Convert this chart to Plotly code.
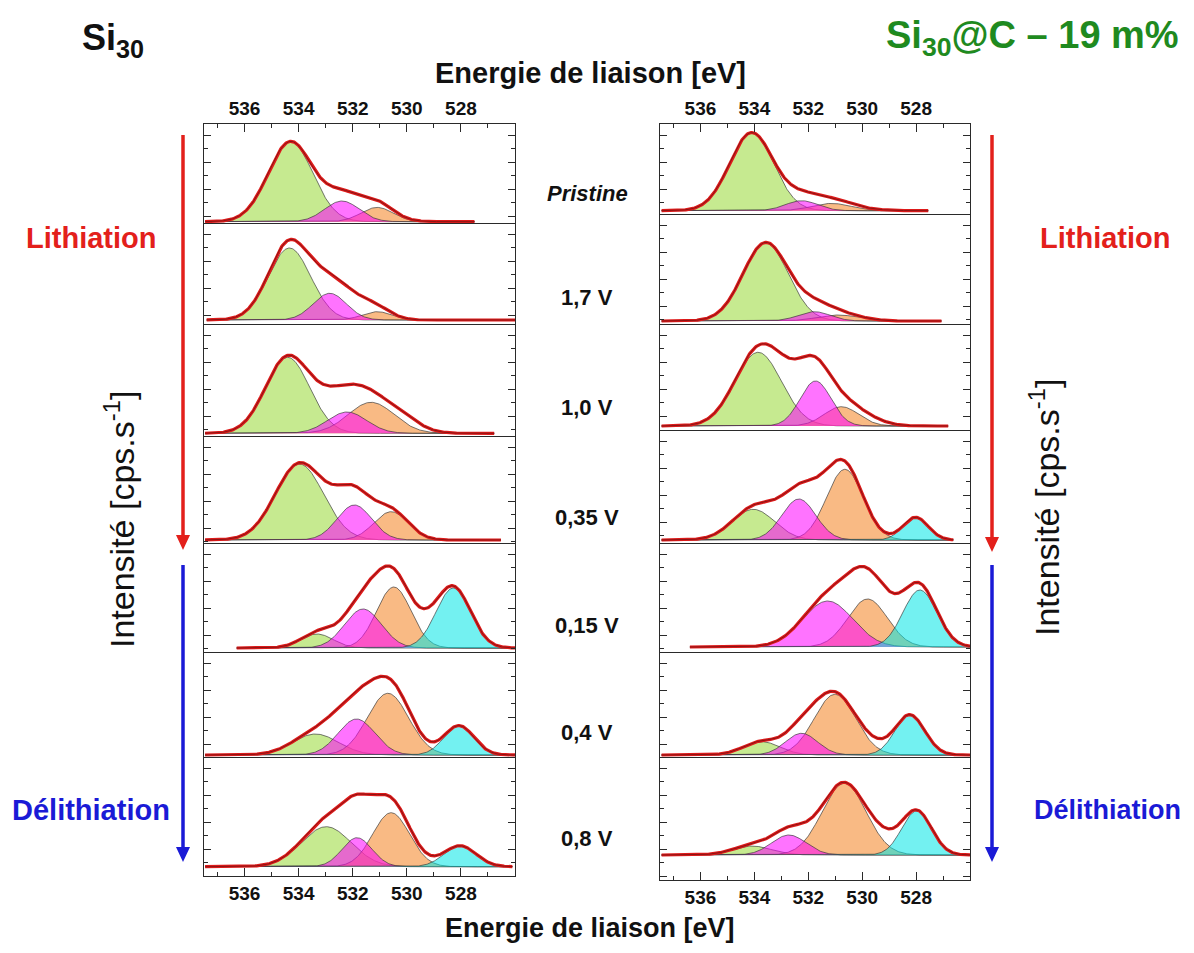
import numpy as np
import plotly.graph_objects as go

W, H = 1194, 953          # browser window
OFF = 8                   # default page margin around the plot div
FW, FH = W - 2 * OFF, H - 2 * OFF
FONT = "Arial, 'Liberation Sans', sans-serif"

# ---------------- data ----------------
ENERGY_TICKS = [536, 534, 532, 530, 528]
ENERGY_MINOR = [537, 535, 533, 531, 529, 527]
ENERGY_RANGE = [537.5, 526.0]
CONDITIONS = ["<i>Pristine</i>", "1,7 V", "1,0 V", "0,35 V", "0,15 V", "0,4 V", "0,8 V"]

# Si30 panel: fitted components (centre eV, height, FWHM eV)
SI30_GREEN_C = [534.30, 534.34, 534.41, 533.97, 533.32, 533.38, 532.98]
SI30_GREEN_H = [80.0, 72.0, 76.0, 76.0, 14.0, 21.0, 40.0]
SI30_GREEN_W = [1.95, 1.85, 1.92, 2.10, 1.40, 2.00, 2.16]
SI30_MAG_C = [532.40, 532.85, 532.21, 531.94, 531.62, 531.86, 531.84]
SI30_MAG_H = [20.7, 26.7, 21.3, 35.0, 39.0, 36.0, 29.0]
SI30_MAG_W = [1.50, 1.45, 1.70, 1.50, 1.60, 1.60, 1.30]
SI30_ORA_C = [531.10, 531.10, 531.32, 530.58, 530.48, 530.70, 530.58]
SI30_ORA_H = [14.3, 8.3, 31.0, 28.3, 61.0, 61.7, 54.0]
SI30_ORA_W = [1.40, 1.30, 2.00, 1.50, 1.50, 1.80, 1.60]
SI30_CYA_C = [528.0, 528.0, 528.0, 528.0, 528.28, 528.07, 528.03]
SI30_CYA_H = [0.0, 0.0, 0.0, 0.0, 60.0, 29.3, 20.7]
SI30_CYA_W = [1.3, 1.3, 1.3, 1.3, 1.50, 1.30, 1.40]
# part of the measured curve not covered by the components
SI30_RESID = [[(531.7, 6, 2.2)],
              [(534.2, 7, 1.5), (532.0, 16, 1.7)],
              [(533.0, 15, 1.6), (530.1, 9, 1.6)],
              [(532.3, 12, 1.8)],
              [(531.0, 9, 3.0), (529.3, 8, 1.2)],
              [(532.6, 9, 1.4), (530.3, 9, 1.4)],
              [(531.5, 16, 2.8)]]
SI30_SPAN = [(537.46, 527.5), (537.4, 526.0), (537.46, 526.77), (537.46, 526.52),
             (536.29, 526.0), (537.46, 526.0), (537.46, 526.1)]

# Si30@C panel
SIC_GREEN_C = [534.10, 533.58, 533.86, 534.04, 533.50, 533.73, 534.10]
SIC_GREEN_H = [78.0, 78.0, 73.7, 30.7, 0.0, 13.3, 9.0]
SIC_GREEN_W = [1.92, 1.98, 2.04, 1.85, 1.50, 1.60, 1.70]
SIC_MAG_C = [532.25, 531.78, 531.73, 532.35, 531.28, 532.25, 532.72]
SIC_MAG_H = [10.0, 9.3, 45.0, 41.0, 46.0, 21.7, 20.0]
SIC_MAG_W = [1.40, 1.40, 1.35, 1.48, 2.20, 1.40, 1.50]
SIC_ORA_C = [531.14, 530.89, 530.77, 530.64, 529.80, 531.01, 530.67]
SIC_ORA_H = [7.3, 6.0, 19.3, 70.7, 48.0, 60.7, 71.7]
SIC_ORA_W = [1.70, 1.80, 1.50, 1.60, 1.73, 1.80, 1.92]
SIC_CYA_C = [528.0, 528.0, 528.0, 528.02, 527.86, 528.23, 527.98]
SIC_CYA_H = [0.0, 0.0, 0.0, 22.7, 57.0, 40.0, 44.0]
SIC_CYA_W = [1.1, 1.1, 1.1, 1.10, 1.48, 1.30, 1.30]
SIC_RESID = [[(531.2, 4, 2.5)],
             [(531.6, 3, 2.5)],
             [(532.6, 27, 1.8), (529.9, 7, 1.6)],
             [(531.5, 18, 1.5), (533.3, 7, 1.4)],
             [(529.5, 18, 2.5)],
             [(529.6, 6, 1.3)],
             [(529.2, 10, 1.3), (532.2, 5, 1.8)]]
SIC_SPAN = [(537.44, 527.55), (537.44, 527.06), (537.44, 526.81), (537.44, 526.62),
            (536.39, 526.0), (537.44, 526.0), (537.44, 526.0)]

# ---------------- layout geometry (reference pixels) ----------------
PANELS = [
    dict(x0=204, x1=515,
         seps=[124, 223, 324, 436, 543, 652, 757, 876],
         base=[221.7, 320, 433.3, 540, 648, 755, 866.7],
         green=(SI30_GREEN_C, SI30_GREEN_H, SI30_GREEN_W),
         mag=(SI30_MAG_C, SI30_MAG_H, SI30_MAG_W),
         ora=(SI30_ORA_C, SI30_ORA_H, SI30_ORA_W),
         cya=(SI30_CYA_C, SI30_CYA_H, SI30_CYA_W),
         resid=SI30_RESID, span=SI30_SPAN),
    dict(x0=660, x1=970,
         seps=[124, 214, 324, 430, 543, 652, 757, 880],
         base=[210.7, 321, 426, 540, 647, 755, 855],
         green=(SIC_GREEN_C, SIC_GREEN_H, SIC_GREEN_W),
         mag=(SIC_MAG_C, SIC_MAG_H, SIC_MAG_W),
         ora=(SIC_ORA_C, SIC_ORA_H, SIC_ORA_W),
         cya=(SIC_CYA_C, SIC_CYA_H, SIC_CYA_W),
         resid=SIC_RESID, span=SIC_SPAN),
]

FILL = dict(green="rgba(160,220,70,0.6)", ora="rgba(245,140,50,0.6)",
            mag="rgba(255,0,255,0.55)", cya="rgba(0,230,230,0.55)")
ORDER = ["green", "ora", "mag", "cya"]
AXC = "#2a2a2a"


def gauss(x, c, h, w):
    return h * np.exp(-4 * np.log(2) * (x - c) ** 2 / w ** 2)


def px(v):
    return (v - OFF) / FW


def py(v):
    return 1 - (v - OFF) / FH


fig = go.Figure()
layout = dict()
k = 0
for p in PANELS:
    for r in range(7):
        k += 1
        sfx = "" if k == 1 else str(k)
        top, bot, y0 = p["seps"][r], p["seps"][r + 1], p["base"][r]
        yr = [-(bot - y0), y0 - top]
        xa = dict(domain=[px(p["x0"]), px(p["x1"])], range=ENERGY_RANGE, anchor="y" + sfx,
                  showline=True, linecolor=AXC, linewidth=1.3, mirror=False, side="bottom",
                  showgrid=False, zeroline=False, tickmode="array",
                  tickvals=ENERGY_TICKS, ticktext=[f"<b>{t}</b>" for t in ENERGY_TICKS],
                  tickfont=dict(family=FONT, size=19, color="#111"),
                  ticks="", showticklabels=False)
        if r == 0 or r == 6:
            xa.update(ticks="inside", ticklen=8, tickwidth=1.3, tickcolor=AXC,
                      showticklabels=True,
                      minor=dict(tickvals=ENERGY_MINOR, ticks="inside", ticklen=4,
                                 tickwidth=1.2, tickcolor=AXC))
        if r == 0:
            xa.update(side="top", mirror=True)
        t0 = yr[1] - 11
        ya = dict(domain=[py(bot), py(top)], range=yr, anchor="x" + sfx,
                  showline=True, linecolor=AXC, linewidth=1.3, mirror="ticks",
                  showgrid=False, zeroline=False, showticklabels=False,
                  ticks="inside", ticklen=7, tickwidth=1.3, tickcolor=AXC,
                  tickmode="linear", tick0=t0, dtick=27,
                  minor=dict(ticks="inside", ticklen=4, tickwidth=1.2, tickcolor=AXC,
                             tick0=t0, dtick=13.5))
        layout["xaxis" + sfx] = xa
        layout["yaxis" + sfx] = ya

        e0, e1 = p["span"][r]
        x = np.linspace(e0, e1, 400)
        total = np.zeros_like(x)
        for name in ORDER:
            C, Hh, Ww = p[name]
            if Hh[r] <= 0:
                continue
            y = gauss(x, C[r], Hh[r], Ww[r])
            total += y
            fig.add_trace(go.Scatter(x=x, y=y, xaxis="x" + sfx, yaxis="y" + sfx,
                                     mode="lines", fill="tozeroy", fillcolor=FILL[name],
                                     line=dict(color="rgba(55,55,55,0.85)", width=0.8),
                                     hoverinfo="skip"))
        for (c, h, w) in p["resid"][r]:
            total = total + gauss(x, c, h, w)
        fig.add_trace(go.Scatter(x=x, y=total, xaxis="x" + sfx, yaxis="y" + sfx, mode="lines",
                                 line=dict(color="#dd1a1a", width=3.2), hoverinfo="skip"))
        fig.add_trace(go.Scatter(x=x, y=total, xaxis="x" + sfx, yaxis="y" + sfx, mode="lines",
                                 line=dict(color="#8a1414", width=1.0), hoverinfo="skip"))

ann = []


def text(x, y, s, size, color="#111", bold=True, anchor="center", angle=0):
    ann.append(dict(x=px(x), y=py(y), xref="paper", yref="paper", showarrow=False,
                    text=f"<b>{s}</b>" if bold else s, textangle=angle,
                    xanchor=anchor, yanchor="middle",
                    font=dict(family=FONT, size=size, color=color)))


RED, BLUE, GREEN_T = "#e3201b", "#1a1ad6", "#1f8a1f"
text(80, 40, "Si<sub>30</sub>", 36, anchor="left")
text(1181, 38, "Si<sub>30</sub>@C – 19 m%", 38, color=GREEN_T, anchor="right")
text(590, 73, "Energie de liaison [eV]", 29)
text(590, 928, "Energie de liaison [eV]", 27)
LABEL_Y = [193, 297, 408, 517, 625, 732, 838]
for s, yy in zip(CONDITIONS, LABEL_Y):
    text(587, yy, s, 22)
text(91, 238, "Lithiation", 29, color=RED)
text(91, 810, "Délithiation", 29, color=BLUE)
text(1105, 238, "Lithiation", 29, color=RED)
text(1107, 810, "Délithiation", 27, color=BLUE)
text(119, 520, "Intensité [cps.s<sup>-1</sup>]", 34, bold=False, angle=-90)
text(1045, 508, "Intensité [cps.s<sup>-1</sup>]", 34, bold=False, angle=-90)

shapes = []


def arrow(x, y_from, y_to, color):
    head = 15
    shapes.append(dict(type="line", xref="paper", yref="paper",
                       x0=px(x), x1=px(x), y0=py(y_from), y1=py(y_to - head + 2),
                       line=dict(color=color, width=3.5)))
    shapes.append(dict(type="path", xref="paper", yref="paper", fillcolor=color,
                       line=dict(color=color, width=0),
                       path=(f"M {px(x - 7)},{py(y_to - head)} L {px(x + 7)},{py(y_to - head)} "
                             f"L {px(x)},{py(y_to)} Z")))


arrow(183, 135, 550, RED)
arrow(183, 565, 862, BLUE)
arrow(992, 135, 552, RED)
arrow(992, 565, 862, BLUE)

fig.update_layout(width=FW, height=FH, margin=dict(l=0, r=0, t=0, b=0),
                  paper_bgcolor="white", plot_bgcolor="white", showlegend=False,
                  annotations=ann, shapes=shapes, **layout)
fig.write_html("out.html")
